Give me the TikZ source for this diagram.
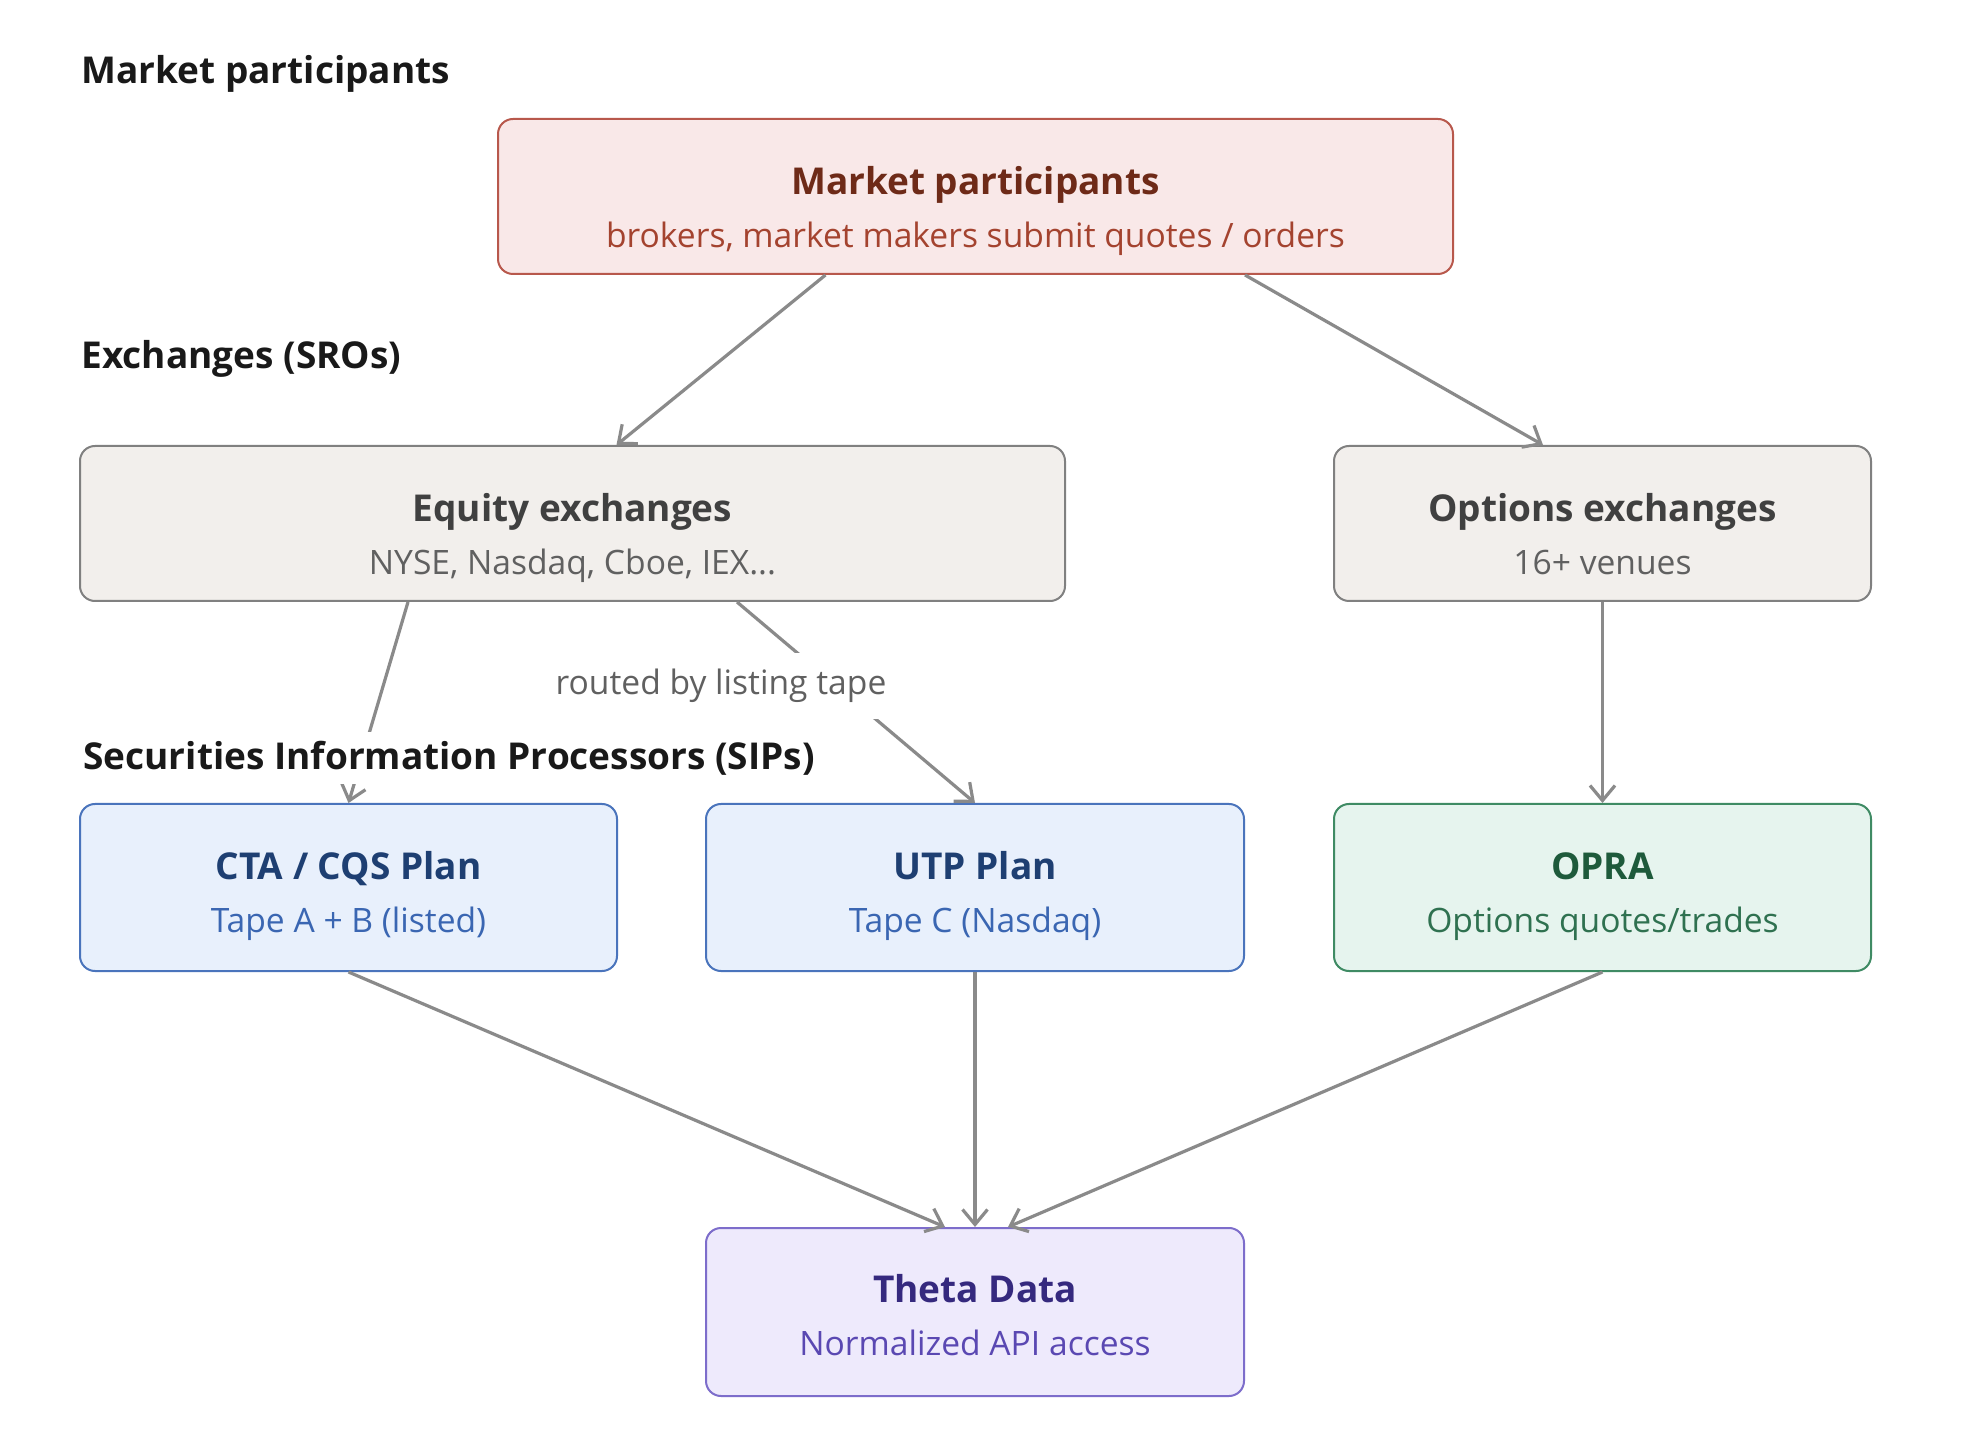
\documentclass[tikz,border=0pt]{standalone}
\usepackage{fontspec}
\setmainfont{Open Sans}
\usetikzlibrary{arrows.meta}
\definecolor{mpfill}{HTML}{F9E8E8}\definecolor{mpdraw}{HTML}{B8584C}
\definecolor{mpttl}{HTML}{6E2A18}\definecolor{mpsub}{HTML}{A4432F}
\definecolor{exfill}{HTML}{F2EFEC}\definecolor{exdraw}{HTML}{808080}
\definecolor{exttl}{HTML}{404040}\definecolor{exsub}{HTML}{606060}
\definecolor{sipfill}{HTML}{E8F0FC}\definecolor{sipdraw}{HTML}{4A74BC}
\definecolor{sipttl}{HTML}{1E3F72}\definecolor{sipsub}{HTML}{3A66B2}
\definecolor{opfill}{HTML}{E6F4EE}\definecolor{opdraw}{HTML}{3F8B64}
\definecolor{opttl}{HTML}{1E5A3B}\definecolor{opsub}{HTML}{2F7150}
\definecolor{thfill}{HTML}{EEEAFC}\definecolor{thdraw}{HTML}{7D6DCB}
\definecolor{thttl}{HTML}{35297E}\definecolor{thsub}{HTML}{5A48B2}
\definecolor{arr}{HTML}{8A8A8A}
\newcommand{\ttlfont}{\fontsize{18.5}{26.5}\selectfont\bfseries}
\newcommand{\subfont}{\fontsize{16.8}{26.5}\selectfont}
\begin{document}
\begin{tikzpicture}[x=0.5pt,y=-0.5pt,
  box/.style={rounded corners=7.5pt, line width=1pt, inner sep=0pt},
  txt/.style={align=center, inner sep=0pt, font=\subfont},
  heading/.style={anchor=west, font=\ttlfont, text=black!90, inner sep=0pt},
  conn/.style={draw=arr, line width=1.6pt, -{Straight Barb[length=7.5pt,width=12.5pt,line width=1.6pt]}},
  lnk/.style={draw=arr, line width=1.6pt}]
\path[use as bounding box, fill=white] (0,0) rectangle (1988,1454);

% headings
\node[heading] (h1) at (81,74) {Market participants};
\node[heading] (h2) at (81,359) {Exchanges (SROs)};

% boxes
\node[box, draw=mpdraw, fill=mpfill, minimum width=477.5pt, minimum height=77.5pt] (mp) at (975.5,196.5) {};
\node[box, draw=exdraw, fill=exfill, minimum width=492.5pt, minimum height=77.5pt] (eq) at (572.5,523.5) {};
\node[box, draw=exdraw, fill=exfill, minimum width=268.5pt, minimum height=77.5pt] (opt) at (1602.5,523.5) {};
\node[box, draw=sipdraw, fill=sipfill, minimum width=268.5pt, minimum height=83.5pt] (cta) at (348.5,887.5) {};
\node[box, draw=sipdraw, fill=sipfill, minimum width=269pt, minimum height=83.5pt] (utp) at (975,887.5) {};
\node[box, draw=opdraw, fill=opfill, minimum width=268.5pt, minimum height=83.5pt] (opra) at (1602.5,887.5) {};
\node[box, draw=thdraw, fill=thfill, minimum width=269pt, minimum height=84pt] (th) at (975,1312) {};

% box texts
\node[txt] (mpT) at ([yshift=-7pt]mp.center)
  {\textcolor{mpttl}{\ttlfont\strut Market participants}\\\textcolor{mpsub}{\strut brokers, market makers submit quotes / orders}};
\node[txt] (eqT) at ([yshift=-7pt]eq.center)
  {\textcolor{exttl}{\ttlfont\strut Equity exchanges}\\\textcolor{exsub}{\strut NYSE, Nasdaq, Cboe, IEX...}};
\node[txt] (optT) at ([yshift=-7pt]opt.center)
  {\textcolor{exttl}{\ttlfont\strut Options exchanges}\\\textcolor{exsub}{\strut 16+ venues}};
\node[txt] (ctaT) at ([yshift=-4pt]cta.center)
  {\textcolor{sipttl}{\ttlfont\strut CTA / CQS Plan}\\\textcolor{sipsub}{\strut Tape A + B (listed)}};
\node[txt] (utpT) at ([yshift=-4pt]utp.center)
  {\textcolor{sipttl}{\ttlfont\strut UTP Plan}\\\textcolor{sipsub}{\strut Tape C (Nasdaq)}};
\node[txt] (opraT) at ([yshift=-4pt]opra.center)
  {\textcolor{opttl}{\ttlfont\strut OPRA}\\\textcolor{opsub}{\strut Options quotes/trades}};
\node[txt] (thT) at ([yshift=-3pt]th.center)
  {\textcolor{thttl}{\ttlfont\strut Theta Data}\\\textcolor{thsub}{\strut Normalized API access}};

% connectors
\draw[conn] ([xshift=-75pt]mp.south) -- ([xshift=22pt]eq.north);
\draw[conn] ([xshift=134.75pt]mp.south) -- ([xshift=-29.75pt]opt.north);
\draw[conn] ([xshift=-82.25pt]eq.south) -- (cta.north);
\draw[conn] ([xshift=82.25pt]eq.south) -- (utp.north);
\draw[conn] (opt.south) -- (opra.north);
\draw[conn] (cta.south) -- ([xshift=-15pt]th.north);
\draw[conn] (utp.south) -- (th.north);
\draw[conn] (opra.south) -- ([xshift=16.5pt]th.north);

% labels covering lines
\node[fill=white, inner xsep=3pt, inner ysep=8pt, font=\subfont, text=exsub] (rl) at (721,686) {routed by listing tape};
\node[heading, fill=white, inner ysep=4.5pt, inner xsep=2pt] (h3) at (79,758) {Securities Information Processors (SIPs)};
\end{tikzpicture}
\end{document}
